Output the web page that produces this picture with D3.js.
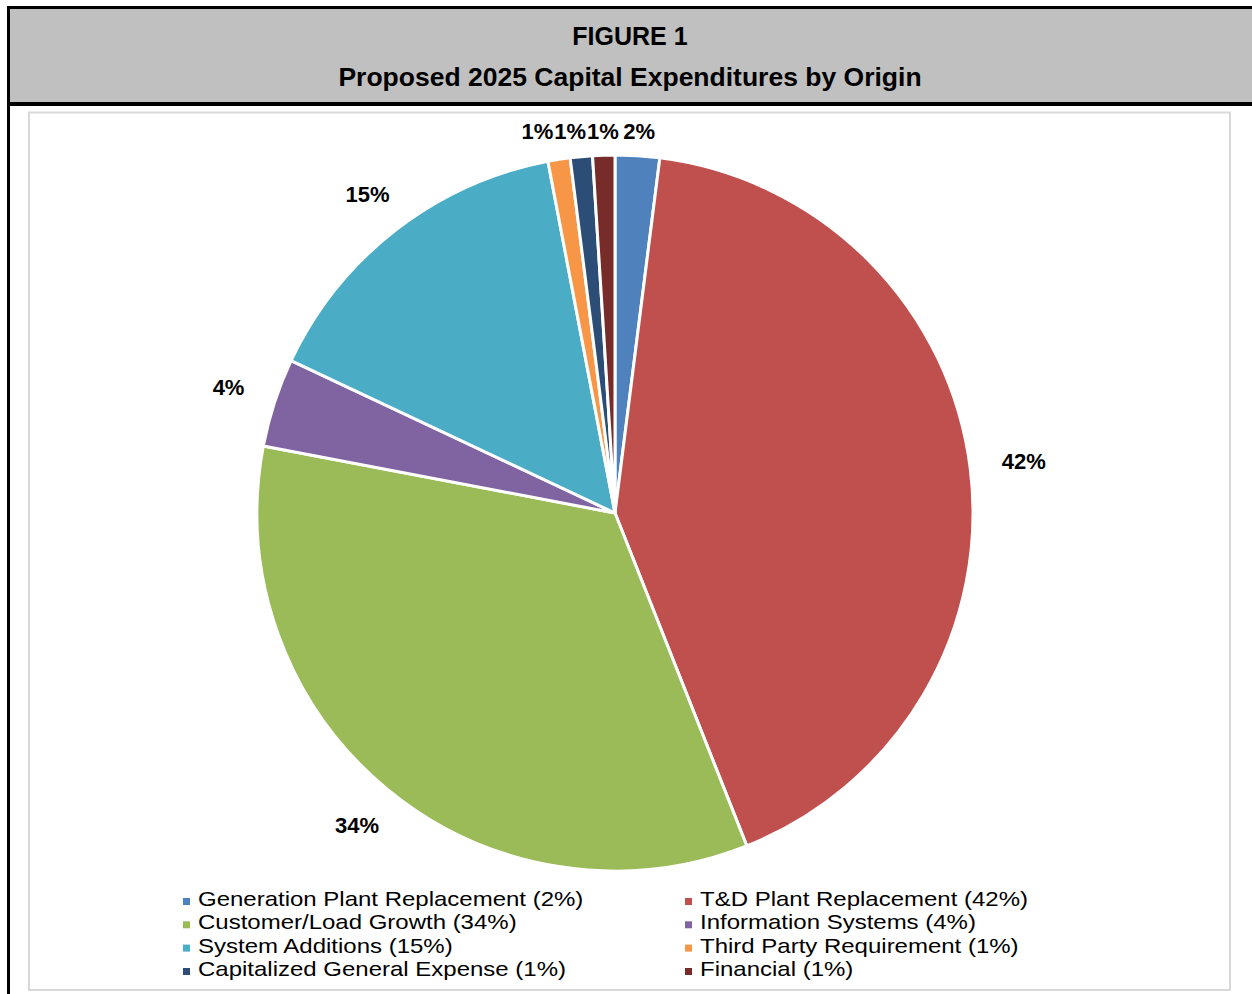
<!DOCTYPE html>
<html>
<head>
<meta charset="utf-8">
<script src="https://cdn.jsdelivr.net/npm/d3@7"></script>
<style>
  html, body { margin: 0; padding: 0; background: #fff; }
  svg { display: block; font-family: "Liberation Sans", Arial, sans-serif; }
</style>
</head>
<body>
<svg id="chart" width="1252" height="994"></svg>
<script>
// Capital expenditure shares by origin (percent of total)
const categories = [
  "Generation Plant Replacement",
  "T&D Plant Replacement",
  "Customer/Load Growth",
  "Information Systems",
  "System Additions",
  "Third Party Requirement",
  "Capitalized General Expense",
  "Financial"
];
const shares = [2, 42, 34, 4, 15, 1, 1, 1];
const colors = ["#4F81BD", "#C0504D", "#9BBB59", "#8064A2", "#4BACC6", "#F79646", "#2C4D75", "#772C2A"];
const titleLines = ["FIGURE 1", "Proposed 2025 Capital Expenditures by Origin"];
const titleSizes = [25, 26.5];

const data = categories.map((c, i) => ({ name: c, value: shares[i], color: colors[i] }));
const svg = d3.select("#chart");

// Header band
svg.append("rect").attr("x", 10).attr("y", 9).attr("width", 1242).attr("height", 93).attr("fill", "#c0c0c0");
svg.append("line").attr("x1", 7).attr("x2", 1252).attr("y1", 7.5).attr("y2", 7.5).attr("stroke", "#000").attr("stroke-width", 3);
svg.append("line").attr("x1", 7).attr("x2", 1252).attr("y1", 104).attr("y2", 104).attr("stroke", "#000").attr("stroke-width", 4);
svg.append("line").attr("x1", 8.5).attr("x2", 8.5).attr("y1", 6).attr("y2", 994).attr("stroke", "#000").attr("stroke-width", 3);

svg.selectAll("text.title").data(titleLines).join("text")
  .attr("class", "title")
  .attr("x", 630)
  .attr("y", (d, i) => 45 + i * 41)
  .attr("text-anchor", "middle")
  .attr("font-size", (d, i) => titleSizes[i])
  .attr("font-weight", "bold")
  .attr("fill", "#000")
  .text(d => d);

// Chart area frame
svg.append("rect").attr("x", 29).attr("y", 112.5).attr("width", 1201).attr("height", 877.5)
  .attr("fill", "#fff").attr("stroke", "#d9d9d9").attr("stroke-width", 2);

// Pie
const cx = 615, cy = 513, radius = 358;
const pie = d3.pie().value(d => d.value).sort(null);
const arc = d3.arc().innerRadius(0).outerRadius(radius);
const arcs = pie(data);

const g = svg.append("g").attr("transform", `translate(${cx},${cy})`);
g.selectAll("path").data(arcs).join("path")
  .attr("d", arc)
  .attr("fill", d => d.data.color)
  .attr("stroke", "#fff")
  .attr("stroke-width", 3)
  .attr("stroke-linejoin", "round");

// Outside-end data labels
const labelSize = 22;
const labels = g.selectAll("text.lbl").data(arcs).join("text")
  .attr("class", "lbl")
  .attr("text-anchor", "middle")
  .attr("font-size", labelSize)
  .attr("font-weight", "bold")
  .attr("fill", "#000")
  .text(d => d.data.value + "%");

const boxes = [];
labels.each(function(d) {
  const w = this.getComputedTextLength();
  const h = 20;
  const a = (d.startAngle + d.endAngle) / 2;
  const s = Math.sin(a), c = Math.cos(a);
  const gap = 14 + 17 * Math.abs(s);
  const dist = radius + gap + Math.abs(s) * w / 2 + Math.abs(c) * h / 2;
  boxes.push({ node: this, x: s * dist, y: -c * dist, w, h });
});

// Push apart labels that share a row near the top of the pie
const topRow = boxes.filter(b => b.y < -radius).sort((p, q) => p.x - q.x);
const rowY = d3.max(topRow, b => b.y);
topRow.forEach(b => { b.y = rowY; });
for (let i = topRow.length - 2; i >= 0; i--) {
  const minDx = (topRow[i].w + topRow[i + 1].w) / 2 + 1;
  if (topRow[i + 1].x - topRow[i].x < minDx) topRow[i].x = topRow[i + 1].x - minDx;
}
boxes.forEach(b => {
  d3.select(b.node).attr("x", b.x).attr("y", b.y + 0.358 * labelSize);
});

// Legend, two columns; entries use a slightly widened face
const legendCols = [198, 700];
const legendRows = [906, 929.3, 952.6, 976];
const legendSize = 20, legendStretch = 1.2;
const legend = svg.append("g");
const items = legend.selectAll("g").data(data).join("g")
  .attr("transform", (d, i) => `translate(${legendCols[i % 2]},${legendRows[Math.floor(i / 2)]})`);
items.append("rect").attr("x", -15).attr("y", -8).attr("width", 7).attr("height", 7).attr("fill", d => d.color);
items.append("text").attr("x", 0).attr("y", 0).attr("font-size", legendSize).attr("fill", "#000")
  .attr("transform", `scale(${legendStretch},1)`)
  .text(d => `${d.name} (${d.value}%)`);
</script>
</body>
</html>
